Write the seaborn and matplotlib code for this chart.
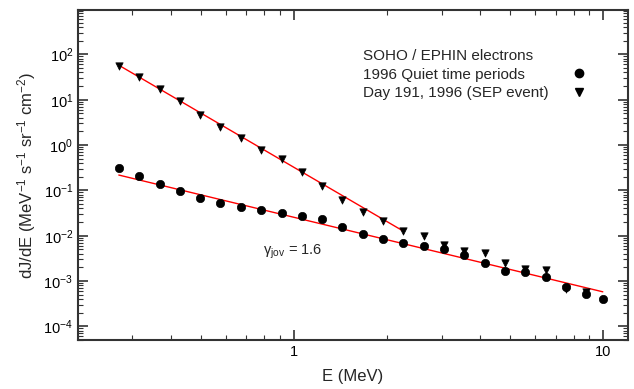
import numpy as np
import pandas as pd
import matplotlib
matplotlib.use("Agg")
import matplotlib.pyplot as plt
import matplotlib.ticker as mticker
from matplotlib.lines import Line2D
import seaborn as sns

# energies (MeV) of the EPHIN channels
energy = [0.271, 0.316, 0.367, 0.427, 0.496, 0.577, 0.673, 0.782, 0.913, 1.061,
          1.234, 1.432, 1.666, 1.937, 2.252, 2.627, 3.054, 3.553, 4.132, 4.794,
          5.582, 6.501, 7.543, 8.749, 9.95]

# 1996 quiet time periods
quiet_flux = [0.307, 0.2045, 0.136, 0.0955, 0.069, 0.0536, 0.0437, 0.0376, 0.0323, 0.0277,
              0.0231, 0.0156, 0.01096, 0.00838, 0.00705, 0.00605, 0.00512, 0.00372, 0.00255, 0.00165,
              0.0016, 0.00124, 0.000734, 0.000514, 0.000399]

# day 191, 1996 (SEP event) - no point in the last channel
sep_energy = energy[:24]
sep_flux = [55.0, 31.0, 16.9, 9.2, 4.58, 2.53, 1.43, 0.788, 0.484, 0.25,
            0.125, 0.0605, 0.0334, 0.0209, 0.0129, 0.0099, 0.00637, 0.00456, 0.00412, 0.00248,
            0.00183, 0.00174, 0.00068, 0.00056]

# power law fits (end points)
fit_sep_E = [0.271, 2.25]
fit_sep_flux = [57.8, 0.0127]
fit_quiet_E = [0.271, 9.95]
fit_quiet_flux = [0.218, 0.000578]

x_major_ticks = [1, 10]
y_major_ticks = [1e-4, 1e-3, 1e-2, 1e-1, 1e0, 1e1, 1e2]

title_text = "SOHO / EPHIN electrons"
quiet_label = "1996 Quiet time periods"
sep_label = "Day 191, 1996 (SEP event)"

sns.set_style("ticks")
plt.rcParams["font.family"] = ["Liberation Sans", "DejaVu Sans"]
plt.rcParams["mathtext.default"] = "regular"

fig = plt.figure(figsize=(6.34, 3.89), dpi=100)
ax = fig.add_axes([0.123, 0.126, 0.8675, 0.848])

quiet_df = pd.DataFrame({"E": energy, "flux": quiet_flux})
sep_df = pd.DataFrame({"E": sep_energy, "flux": sep_flux})

sns.lineplot(x=fit_sep_E, y=fit_sep_flux, color="red", lw=1.0, ax=ax)
sns.lineplot(x=fit_quiet_E, y=fit_quiet_flux, color="red", lw=1.0, ax=ax)
sns.scatterplot(data=sep_df, x="E", y="flux", marker="v", s=28, color="black",
                edgecolor="black", linewidth=0.5, ax=ax, zorder=3)
sns.scatterplot(data=quiet_df, x="E", y="flux", marker="o", s=36, color="black",
                edgecolor="black", linewidth=0.5, ax=ax, zorder=3)

ax.set_xscale("log")
ax.set_yscale("log")
ax.set_xlim(0.2, 12)
ax.set_ylim(5e-5, 950)

ax.xaxis.set_major_locator(mticker.FixedLocator(x_major_ticks))
ax.xaxis.set_major_formatter(mticker.FuncFormatter(lambda v, p: f"{v:g}"))
ax.xaxis.set_minor_formatter(mticker.NullFormatter())
ax.yaxis.set_major_locator(mticker.FixedLocator(y_major_ticks))
ax.yaxis.set_major_formatter(mticker.LogFormatterMathtext())
ax.yaxis.set_minor_locator(mticker.LogLocator(base=10, subs=np.arange(2, 10), numticks=15))
ax.yaxis.set_minor_formatter(mticker.NullFormatter())

ax.tick_params(which="both", direction="in", top=True, right=True, colors="#333333",
               labelcolor="black", labelsize=10.5)
ax.tick_params(which="major", length=7, width=1.2)
ax.tick_params(which="minor", length=3.5, width=0.8)
for sp in ax.spines.values():
    sp.set_linewidth(1.5)
    sp.set_color("#333333")

ax.set_xlabel("E (MeV)", fontsize=12, labelpad=7)
ax.set_ylabel("dJ/dE (MeV$^{-1}$ s$^{-1}$ sr$^{-1}$ cm$^{-2}$)", fontsize=12)

ax.text(0.79, 0.0045, r"$\gamma_{jov}$ = 1.6", fontsize=10.5, va="center", ha="left")

# text part of the key (left aligned) and the marker part (aligned column on the right)
blank = Line2D([], [], ls="none")
leg_kw = dict(loc="upper left", frameon=False, fontsize=11, title_fontproperties={"size": 11},
              labelspacing=0.3, borderpad=0)
txt_leg = ax.legend([blank, blank], [quiet_label, sep_label], title=title_text,
                    bbox_to_anchor=(0.505, 0.905), alignment="left",
                    handlelength=0, handletextpad=0, **leg_kw)
ax.add_artist(txt_leg)
handles = [Line2D([], [], ls="none", marker="o", color="black", markersize=6),
           Line2D([], [], ls="none", marker="v", color="black", markersize=5.5)]
ax.legend(handles, ["", ""], title=" ", bbox_to_anchor=(0.881, 0.905),
          handlelength=1.2, handletextpad=0, **leg_kw)

fig.savefig("out.png", dpi=100)
